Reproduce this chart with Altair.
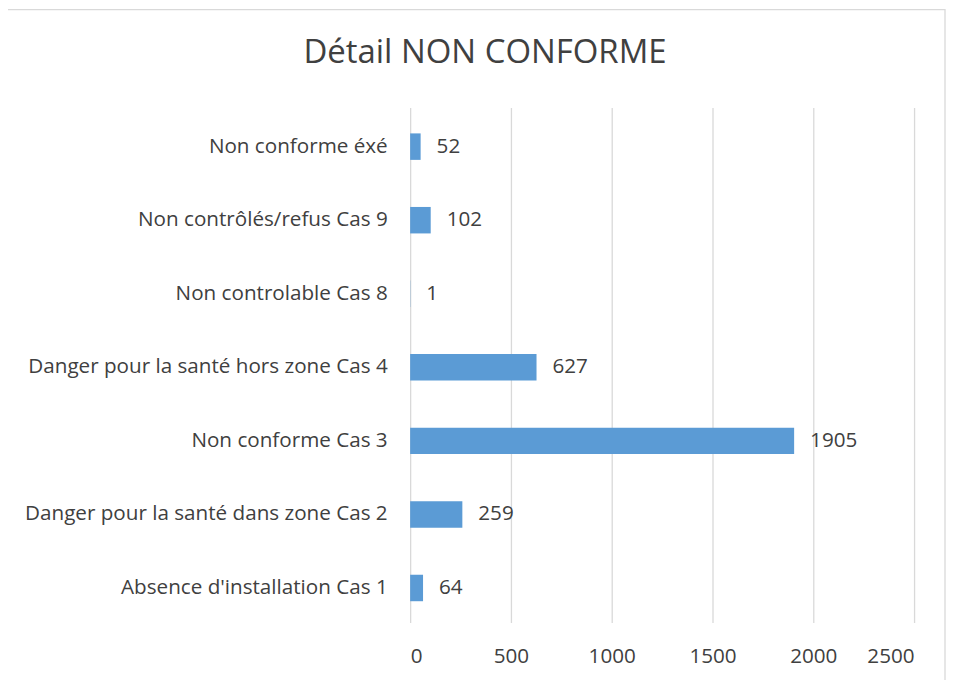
import altair as alt
import pandas as pd

categories = [
    "Non conforme éxé",
    "Non contrôlés/refus Cas 9\u00a0",
    "Non controlable Cas 8",
    "Danger pour la santé hors zone Cas 4",
    "Non conforme Cas 3",
    "Danger pour la santé dans zone Cas 2",
    "Absence d'installation Cas 1",
]
values = [52, 102, 1, 627, 1905, 259, 64]
x_ticks = [0, 500, 1000, 1500, 2000, 2500]
chart_title = "Détail NON CONFORME"

df = pd.DataFrame({"cat": categories, "val": values})

FONT = "Open Sans"
TXT = "#404040"
FS = 20.7

y_enc = alt.Y(
    "cat:N",
    sort=categories,
    title=None,
    scale=alt.Scale(paddingInner=0.64, paddingOuter=0.32, align=0.55),
    axis=alt.Axis(
        domain=False, ticks=False, grid=False,
        labelFont=FONT, labelFontSize=FS, labelColor=TXT, labelPadding=23,
        labelLimit=420,
    ),
)
x_enc = alt.X(
    "val:Q",
    title=None,
    scale=alt.Scale(domain=[0, 2500], nice=False),
    axis=alt.Axis(
        values=x_ticks, format="d", domain=False, ticks=False, grid=True,
        gridColor="#D9D9D9", gridWidth=1.3,
        labelFont=FONT, labelFontSize=FS, labelColor=TXT, labelPadding=24,
    ),
)

border = alt.Chart(df).mark_rect(
    fill=None, stroke="#D9D9D9", strokeWidth=1.3
).encode(
    x=alt.value(-404), x2=alt.value(536), y=alt.value(-98), y2=alt.value(600)
).transform_filter(alt.datum.val == 1905)

title = alt.Chart(df).mark_text(
    align="center", baseline="middle", font=FONT, fontSize=33, color=TXT
).encode(
    x=alt.value(75), y=alt.value(-55), text=alt.value(chart_title)
).transform_filter(alt.datum.val == 1905)

bars = alt.Chart(df).mark_bar(color="#5B9BD5").encode(x=x_enc, y=y_enc)

labels = alt.Chart(df).mark_text(
    align="left", baseline="middle", dx=16, font=FONT, fontSize=FS, color=TXT
).encode(x="val:Q", y=alt.Y("cat:N", sort=categories), text="val:Q")

chart = alt.layer(border, title, bars, labels).properties(
    width=505,
    height=516,
    autosize=alt.AutoSizeParams(type="none"),
    padding={"left": 403, "top": 99, "right": 32, "bottom": 57},
).configure_view(stroke=None)

chart.save("out.html", embed_options={"renderer": "svg", "actions": False})
